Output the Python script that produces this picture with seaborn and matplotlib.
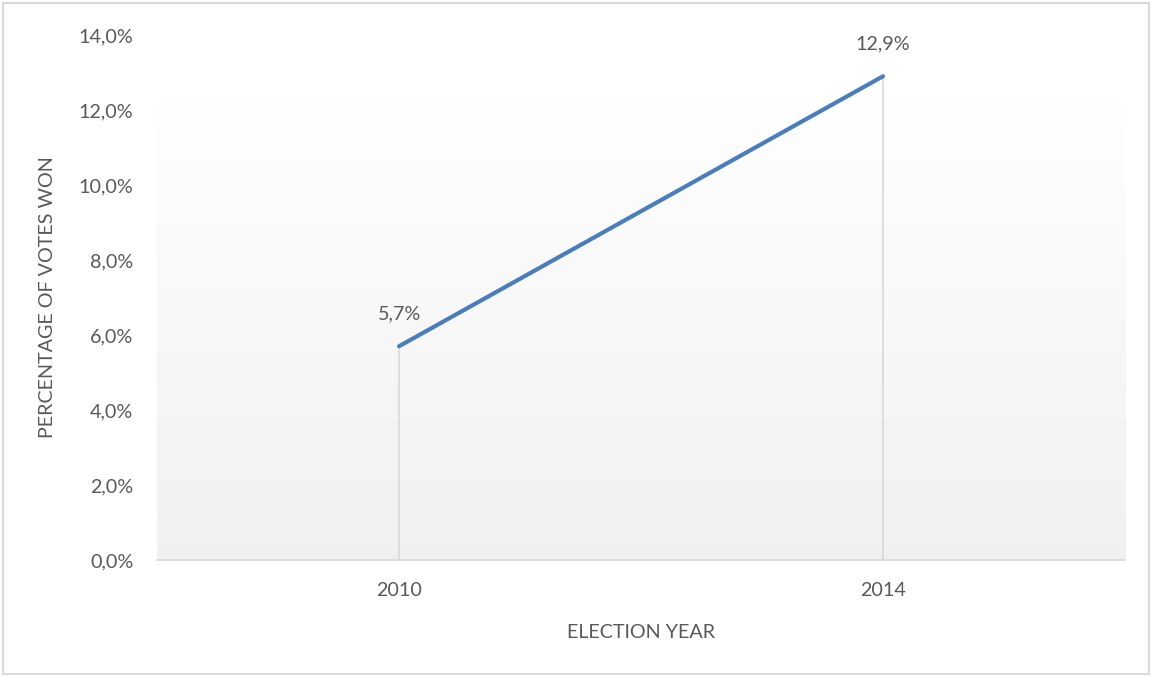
import numpy as np
import pandas as pd
import matplotlib
matplotlib.use("Agg")
import matplotlib.pyplot as plt
from matplotlib.patches import Rectangle
from matplotlib.ticker import FuncFormatter, MultipleLocator
import seaborn as sns

# Election results
years = ["2010", "2014"]
vote_share = [5.7, 12.9]  # percent of votes won

df = pd.DataFrame({"year": years, "share": vote_share})

sns.set_theme(style="white")
plt.rcParams["font.family"] = ["Lato", "DejaVu Sans"]
text_color = "#595959"
grid_color = "#d9d9d9"
fs = 14.2

fig = plt.figure(figsize=(11.52, 6.77), dpi=100)
ax = fig.add_axes([0.1363, 0.1728, 0.8403, 0.7755])

ax.set_xlim(-0.5, 1.5)
ax.set_ylim(0, 14)

# Soft vertical gradient fill of the plot area
grad = np.linspace(0.94, 0.995, 256).reshape(-1, 1)
ax.imshow(grad, cmap="gray", vmin=0, vmax=1, aspect="auto",
          extent=[-0.5, 1.5, 0, 12.2], origin="lower", zorder=0,
          interpolation="nearest")

# Drop lines from each point to the axis
x_pos = np.arange(len(years))
ax.vlines(x_pos, 0, df["share"], color=grid_color, linewidth=1.2, zorder=1)

sns.lineplot(x=x_pos, y=df["share"], ax=ax, color="#4a7ebb",
             linewidth=3.0, zorder=3, solid_capstyle="round")

for xi, v in zip(x_pos, df["share"]):
    ax.annotate(f"{v:.1f}%".replace(".", ","), (xi, v),
                xytext=(0, 23), textcoords="offset points",
                ha="center", va="center", fontsize=fs, color=text_color)

ax.set_xticks(x_pos)
ax.set_xticklabels(years)
ax.yaxis.set_major_locator(MultipleLocator(2))
ax.yaxis.set_major_formatter(FuncFormatter(lambda v, _: f"{v:.1f}%".replace(".", ",")))
ax.tick_params(axis="both", labelsize=fs, labelcolor=text_color, length=0)
ax.tick_params(axis="y", pad=17)
ax.tick_params(axis="x", pad=16)

for side in ["top", "right", "left"]:
    ax.spines[side].set_visible(False)
ax.spines["bottom"].set_color(grid_color)
ax.spines["bottom"].set_linewidth(1.2)
ax.set_facecolor("white")

ax.set_xlabel("ELECTION YEAR", fontsize=fs, color=text_color, labelpad=18)
ax.set_ylabel("PERCENTAGE OF VOTES WON", fontsize=fs, color=text_color, labelpad=16)

# Chart border
fig.patches.append(Rectangle((0.003, 0.004), 0.994, 0.992, transform=fig.transFigure,
                             fill=False, edgecolor=grid_color, linewidth=1.5))

fig.savefig("out.png", dpi=100, facecolor="white")
